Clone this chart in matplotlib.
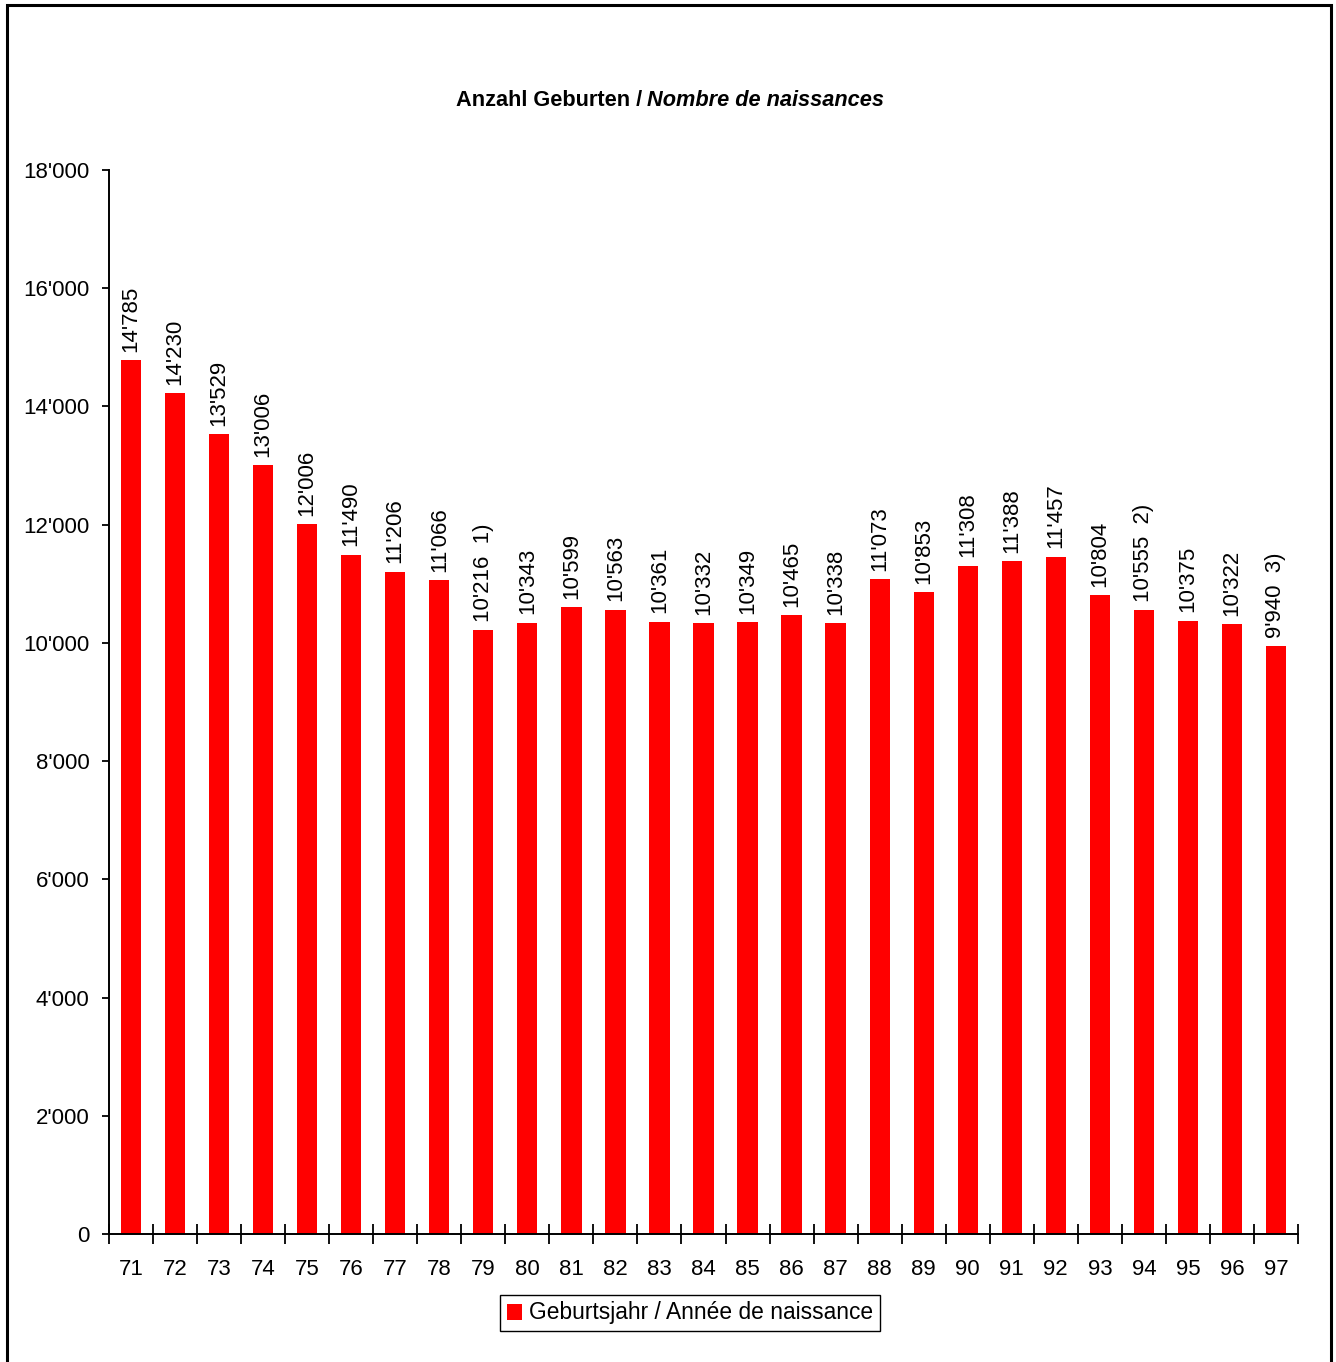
import matplotlib
matplotlib.use("Agg")
import matplotlib.pyplot as plt
from matplotlib.patches import Rectangle
from matplotlib.ticker import FuncFormatter, FixedLocator

plt.rcParams['font.family'] = ['Liberation Sans', 'DejaVu Sans']

years = ['71', '72', '73', '74', '75', '76', '77', '78', '79', '80', '81', '82', '83', '84',
         '85', '86', '87', '88', '89', '90', '91', '92', '93', '94', '95', '96', '97']
births = [14785, 14230, 13529, 13006, 12006, 11490, 11206, 11066, 10216, 10343, 10599, 10563,
          10361, 10332, 10349, 10465, 10338, 11073, 10853, 11308, 11388, 11457, 10804, 10555,
          10375, 10322, 9940]
notes = {'79': '1)', '94': '2)', '97': '3)'}


def swiss(v, pos=None):
    return f"{int(v):,}".replace(",", "'")


W, H = 1336, 1362
fig = plt.figure(figsize=(W / 100, H / 100), dpi=100)
ax = fig.add_axes([109 / W, 1 - 1234 / H, (1298 - 109) / W, (1234 - 170) / H])

x = list(range(len(years)))
bars = ax.bar(x, births, width=0.46, color='#ff0000', label='Geburtsjahr / Année de naissance')

for xi, yr, v in zip(x, years, births):
    txt = swiss(v)
    if yr in notes:
        txt += '  ' + notes[yr]
    ax.annotate(txt, (xi, v), xytext=(0, 6), textcoords='offset points',
                ha='center', va='bottom', rotation=90, fontsize=16)

ax.set_xlim(-0.5, len(years) - 0.5)
ax.set_ylim(0, 18000)
ax.set_yticks(range(0, 18001, 2000))
ax.yaxis.set_major_formatter(FuncFormatter(swiss))
ax.set_xticks(x)
ax.set_xticklabels(years)
ax.xaxis.set_minor_locator(FixedLocator([i - 0.5 for i in range(len(years) + 1)]))

ax.tick_params(axis='x', which='major', length=0, pad=18, labelsize=16)
ax.tick_params(axis='x', which='minor', direction='inout', length=14, width=1.3)
ax.tick_params(axis='y', direction='out', length=5, width=1.3, pad=9, labelsize=16)

for s in ['top', 'right']:
    ax.spines[s].set_visible(False)
for s in ['left', 'bottom']:
    ax.spines[s].set_linewidth(1.4)

fig.text(642 / W, 1 - 101 / H, 'Anzahl Geburten /', ha='right', va='center',
         fontsize=15.7, fontweight='bold')
fig.text(647 / W, 1 - 101 / H, 'Nombre de naissances', ha='left', va='center',
         fontsize=15.7, fontweight='bold', fontstyle='italic')

leg = fig.legend(loc='center', bbox_to_anchor=(690 / W, 1 - 1313 / H), fontsize=16.4,
                 frameon=True, fancybox=False, framealpha=1, edgecolor='black',
                 handlelength=0.7, handleheight=0.7, handletextpad=0.3,
                 borderpad=0.3, borderaxespad=0)
leg.get_frame().set_linewidth(1.0)

fig.add_artist(Rectangle((7 / W, -0.02), (1331 - 7) / W, 1.02 - 5 / H,
                         transform=fig.transFigure, fill=False, edgecolor='black',
                         linewidth=2.2, clip_on=False))

fig.savefig('out.png', dpi=100)
plt.close(fig)
